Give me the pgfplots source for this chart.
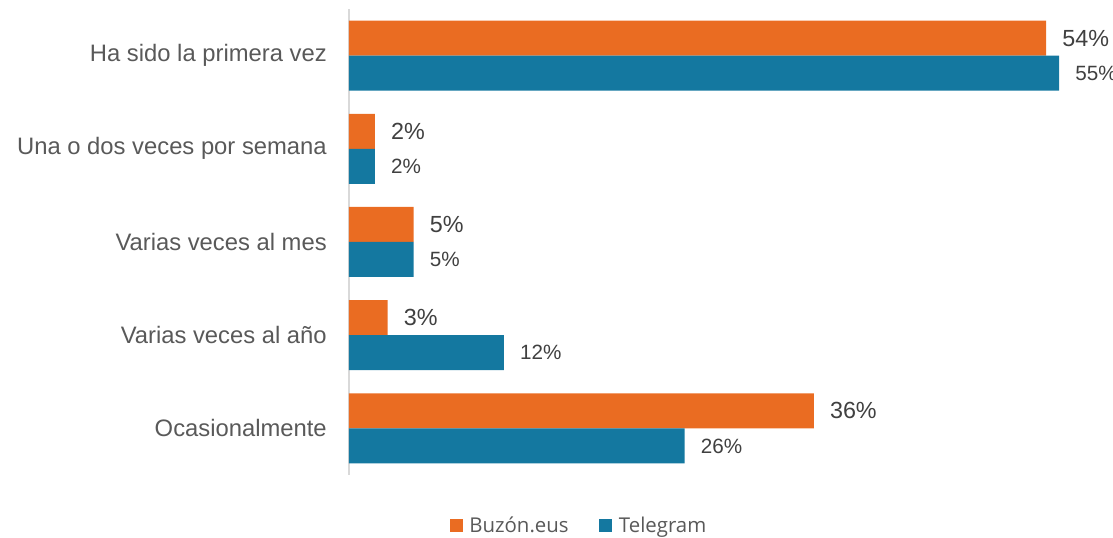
\documentclass[border=0pt]{standalone}
\usepackage{pgfplots}
\pgfplotsset{compat=1.18}
\usepackage{fontspec}
\setmainfont{Liberation Sans}
\newfontfamily\legendfont{Open Sans}
\definecolor{orng}{RGB}{234,108,34}
\definecolor{blu}{RGB}{20,120,160}
\definecolor{lbl}{RGB}{89,89,89}
\definecolor{num}{RGB}{64,64,64}
\begin{document}
\begin{tikzpicture}
\begin{axis}[
  at={(0,0)}, anchor=south west,
  scale only axis, width=571.3pt, height=349.5pt,
  /pgf/number format/assume math mode=true,
  xbar, bar width=26.25pt,
  xmin=0, xmax=59, ymin=-0.5, ymax=4.5,
  axis x line=none, axis y line*=left,
  y axis line style={draw=black!15, line width=1.2pt, -},
  ytick={0,1,2,3,4},
  yticklabels={Ocasionalmente, Varias veces al año, Varias veces al mes, Una o dos veces por semana, Ha sido la primera vez},
  major tick length=0pt,
  yticklabel style={font=\fontsize{17.85}{20}\selectfont, text=lbl, inner sep=0pt},
  yticklabel shift=16.5pt,
  clip=false,
  nodes near coords={\pgfmathprintnumber{\pgfplotspointmeta}\%},
  nodes near coords align=horizontal,
  legend columns=2,
  legend style={at={(0.305,-0.109)}, anchor=center, draw=none, fill=none,
    font=\legendfont\fontsize{15.3}{18}\selectfont, text=lbl,
    /tikz/every even column/.append style={column sep=18pt},
    /tikz/every odd column/.append style={column sep=0pt},
    nodes={inner xsep=5pt}},
  legend image code/.code={\fill[#1] (0pt,-4.9pt) rectangle (9.75pt,4.9pt);},
]
\addplot[fill=orng, draw=none, bar shift=13.125pt,
  every node near coord/.append style={anchor=west, inner sep=0pt, xshift=12pt, text=num, font=\fontsize{17.5}{20}\selectfont}]
  coordinates {(36,0) (3,1) (5,2) (2,3) (54,4)};
\addlegendentry{Buzón.eus}
\addplot[fill=blu, draw=none, bar shift=-13.125pt,
  every node near coord/.append style={anchor=west, inner sep=0pt, xshift=12pt, text=num, font=\fontsize{15.5}{18}\selectfont}]
  coordinates {(26,0) (12,1) (5,2) (2,3) (55,4)};
\addlegendentry{Telegram}
\end{axis}
\pgfresetboundingbox
\useasboundingbox (-261.75pt,-47.25pt) rectangle (573pt,356.25pt);
\end{tikzpicture}
\end{document}
